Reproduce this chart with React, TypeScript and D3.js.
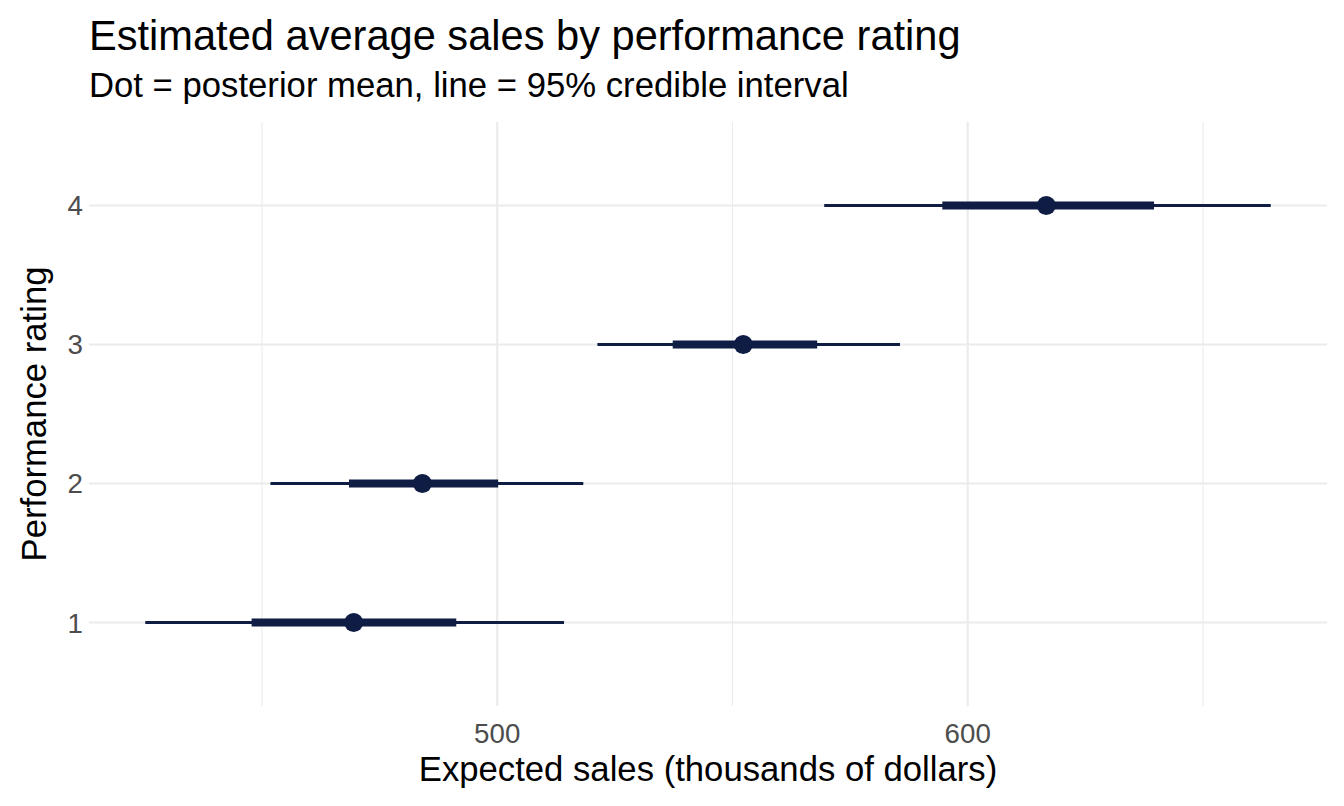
import { useEffect, useRef } from "react";
import * as d3 from "d3";

// posterior summaries, thousands of dollars
const ratings = [1, 2, 3, 4];
const means = [469.5, 484.1, 552.3, 616.7];
const lower95 = [425.2, 451.8, 521.3, 569.5];
const upper95 = [514.2, 518.3, 585.6, 664.4];
const lowerInner = [447.8, 468.5, 537.3, 594.6];
const upperInner = [491.3, 500.2, 568.0, 639.6];

const majorTicks = [500, 600];
const minorTicks = [450, 550, 650];

const W = 1344;
const H = 806;
const margin = { top: 122, right: 17, bottom: 100, left: 89 };
const INK = "#0f1d44";
const GRID = "#ebebeb";
const FONT = "'Liberation Sans', Arial, Helvetica, sans-serif";

export default function App() {
  const ref = useRef<SVGSVGElement>(null);

  useEffect(() => {
    document.body.style.margin = "0";
    if (!ref.current) return;
    const svg = d3.select(ref.current);
    svg.selectAll("*").remove();

    const lo = d3.min(lower95)!;
    const hi = d3.max(upper95)!;
    const pad = (hi - lo) * 0.05;

    const x = d3
      .scaleLinear()
      .domain([lo - pad, hi + pad])
      .range([margin.left, W - margin.right]);
    const y = d3
      .scaleLinear()
      .domain([0.4, 4.6])
      .range([H - margin.bottom, margin.top]);

    const g = svg.append("g");

    // grid
    g.selectAll("line.minor")
      .data(minorTicks)
      .join("line")
      .attr("x1", (d) => x(d))
      .attr("x2", (d) => x(d))
      .attr("y1", y(0.4))
      .attr("y2", y(4.6))
      .attr("stroke", GRID)
      .attr("stroke-width", 1.1);
    g.selectAll("line.major")
      .data(majorTicks)
      .join("line")
      .attr("x1", (d) => x(d))
      .attr("x2", (d) => x(d))
      .attr("y1", y(0.4))
      .attr("y2", y(4.6))
      .attr("stroke", GRID)
      .attr("stroke-width", 2.1);
    g.selectAll("line.hgrid")
      .data(ratings)
      .join("line")
      .attr("x1", x.range()[0])
      .attr("x2", x.range()[1])
      .attr("y1", (d) => y(d))
      .attr("y2", (d) => y(d))
      .attr("stroke", GRID)
      .attr("stroke-width", 2.1);

    // intervals
    const rows = ratings.map((r, i) => ({
      r,
      mean: means[i],
      lo95: lower95[i],
      hi95: upper95[i],
      loIn: lowerInner[i],
      hiIn: upperInner[i],
    }));

    const marks = svg.append("g");
    marks
      .selectAll("line.outer")
      .data(rows)
      .join("line")
      .attr("x1", (d) => x(d.lo95))
      .attr("x2", (d) => x(d.hi95))
      .attr("y1", (d) => y(d.r))
      .attr("y2", (d) => y(d.r))
      .attr("stroke", INK)
      .attr("stroke-width", 3);
    marks
      .selectAll("line.inner")
      .data(rows)
      .join("line")
      .attr("x1", (d) => x(d.loIn))
      .attr("x2", (d) => x(d.hiIn))
      .attr("y1", (d) => y(d.r))
      .attr("y2", (d) => y(d.r))
      .attr("stroke", INK)
      .attr("stroke-width", 8);
    marks
      .selectAll("circle")
      .data(rows)
      .join("circle")
      .attr("cx", (d) => x(d.mean))
      .attr("cy", (d) => y(d.r))
      .attr("r", 9.5)
      .attr("fill", INK);

    // tick labels
    svg
      .append("g")
      .selectAll("text")
      .data(majorTicks)
      .join("text")
      .attr("x", (d) => x(d))
      .attr("y", 743)
      .attr("text-anchor", "middle")
      .attr("font-size", 27.7)
      .attr("fill", "#4d4d4d")
      .text((d) => d3.format("d")(d));
    svg
      .append("g")
      .selectAll("text")
      .data(ratings)
      .join("text")
      .attr("x", 83)
      .attr("y", (d) => y(d))
      .attr("dy", "0.36em")
      .attr("text-anchor", "end")
      .attr("font-size", 27.7)
      .attr("fill", "#4d4d4d")
      .text((d) => String(d));

    // titles
    svg
      .append("text")
      .attr("x", (margin.left + W - margin.right) / 2)
      .attr("y", 781)
      .attr("text-anchor", "middle")
      .attr("font-size", 34.7)
      .attr("fill", "#000")
      .text("Expected sales (thousands of dollars)");
    svg
      .append("text")
      .attr("transform", `translate(46, ${(y(0.4) + y(4.6)) / 2}) rotate(-90)`)
      .attr("text-anchor", "middle")
      .attr("font-size", 34.7)
      .attr("fill", "#000")
      .text("Performance rating");
    svg
      .append("text")
      .attr("x", 89)
      .attr("y", 50)
      .attr("font-size", 41.6)
      .attr("fill", "#000")
      .text("Estimated average sales by performance rating");
    svg
      .append("text")
      .attr("x", 89)
      .attr("y", 97)
      .attr("font-size", 34.7)
      .attr("fill", "#000")
      .text("Dot = posterior mean, line = 95% credible interval");
  }, []);

  return (
    <svg
      ref={ref}
      width={W}
      height={H}
      style={{ display: "block", background: "#fff", fontFamily: FONT }}
    />
  );
}
